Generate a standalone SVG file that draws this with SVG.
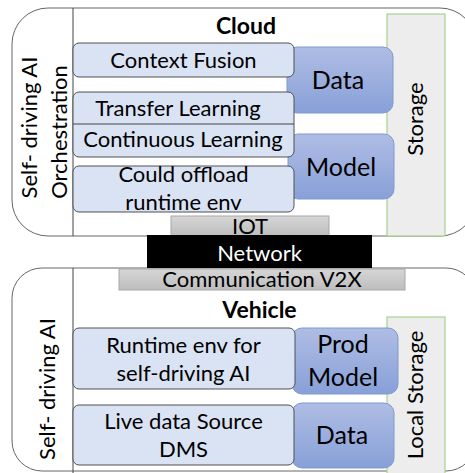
<svg xmlns="http://www.w3.org/2000/svg" width="465" height="473" viewBox="0 0 465 473">
<defs>
<linearGradient id="gb" x1="0" y1="0" x2="0" y2="1">
<stop offset="0" stop-color="#afbde4"/>
<stop offset="1" stop-color="#88a0d8"/>
</linearGradient>
<linearGradient id="gg" x1="0" y1="0" x2="0" y2="1">
<stop offset="0" stop-color="#d6d6d6"/>
<stop offset="1" stop-color="#bdbdbd"/>
</linearGradient>
<style>
.outer{fill:#ffffff;stroke:#666666;stroke-width:1}
.div{stroke:#444444;stroke-width:1}
.box{fill:#dae3f3;stroke:#505050;stroke-width:1}
.blue{fill:url(#gb);stroke:#7f99d1;stroke-width:1}
.store{fill:#ededed;stroke:#a9d18e;stroke-width:1.2}
.grey{fill:url(#gg);stroke:#a8a8a8;stroke-width:1}
.net{fill:#000000}
.t{font-family:Lato,"Open Sans",sans-serif;font-size:22px;fill:#000000;text-anchor:middle}
.lg{font-size:25px}
.b{font-weight:bold;font-size:23px}
.w{fill:#ffffff}
</style>
</defs>
<g id="cloud">
<rect class="outer" x="12" y="8" width="464" height="228" rx="36" ry="36"/>
<line class="div" x1="73" y1="8" x2="73" y2="236"/>
<text class="t" transform="translate(37,127.5) rotate(-90)">Self- driving AI</text>
<text class="t" transform="translate(67,132) rotate(-90)">Orchestration</text>
<text class="t b" x="246" y="33.5">Cloud</text>
</g>
<g id="storage">
<rect class="store" x="387" y="14" width="58" height="222"/>
<text class="t" transform="translate(423,119) rotate(-90)">Storage</text>
</g>
<g id="cloud-data">
<rect class="blue" x="287" y="47" width="106" height="66" rx="10" ry="10"/>
<text class="t lg" x="338" y="88.5">Data</text>
</g>
<g id="cloud-model">
<rect class="blue" x="288" y="134" width="106" height="65" rx="10" ry="10"/>
<text class="t lg" x="341" y="176">Model</text>
</g>
<g id="context-fusion">
<rect class="box" x="73" y="43" width="221" height="34" rx="6" ry="6"/>
<text class="t" x="183.5" y="68">Context Fusion</text>
</g>
<g id="learning">
<rect class="box" x="73" y="92" width="221" height="65" rx="6" ry="6"/>
<line class="div" x1="73" y1="124" x2="294" y2="124"/>
<text class="t" x="178" y="116">Transfer Learning</text>
<text class="t" x="183" y="146.5">Continuous Learning</text>
</g>
<g id="offload">
<rect class="box" x="73" y="166" width="221" height="46" rx="6" ry="6"/>
<text class="t" x="183.5" y="181.5">Could offload</text>
<text class="t" x="183.5" y="210">runtime env</text>
</g>
<g id="vehicle">
<rect class="outer" x="12" y="268" width="464" height="203" rx="30" ry="30"/>
<line class="div" x1="73" y1="268" x2="73" y2="473"/>
<text class="t" transform="translate(55,389) rotate(-90)">Self- driving AI</text>
<text class="t b" x="259.5" y="317.5">Vehicle</text>
</g>
<g id="local-storage">
<rect class="store" x="387" y="317" width="58" height="170"/>
<text class="t" transform="translate(423,395) rotate(-90)">Local Storage</text>
</g>
<g id="prod-model">
<rect class="blue" x="292" y="328" width="106" height="66" rx="10" ry="10"/>
<text class="t lg" x="343" y="353.3">Prod</text>
<text class="t lg" x="343" y="386">Model</text>
</g>
<g id="vehicle-data">
<rect class="blue" x="292" y="403" width="102" height="65" rx="10" ry="10"/>
<text class="t lg" x="342" y="444.3">Data</text>
</g>
<g id="runtime">
<rect class="box" x="73" y="328" width="222" height="61" rx="6" ry="6"/>
<text class="t" x="183.5" y="353.3">Runtime env for</text>
<text class="t" x="183.5" y="380.7">self-driving  AI</text>
</g>
<g id="live-data">
<rect class="box" x="73" y="405" width="221" height="60" rx="6" ry="6"/>
<text class="t" x="183.5" y="429">Live data Source</text>
<text class="t" x="183.5" y="456.7">DMS</text>
</g>
<g id="iot">
<rect class="grey" x="171" y="216" width="158" height="20"/>
<text class="t" x="250" y="234">IOT</text>
</g>
<g id="network">
<rect class="net" x="147" y="235" width="225" height="33"/>
<text class="t w" x="259.5" y="260.7">Network</text>
</g>
<g id="communication">
<rect class="grey" x="119" y="269" width="286" height="21"/>
<text class="t" x="262" y="287.3">Communication V2X</text>
</g>
</svg>
